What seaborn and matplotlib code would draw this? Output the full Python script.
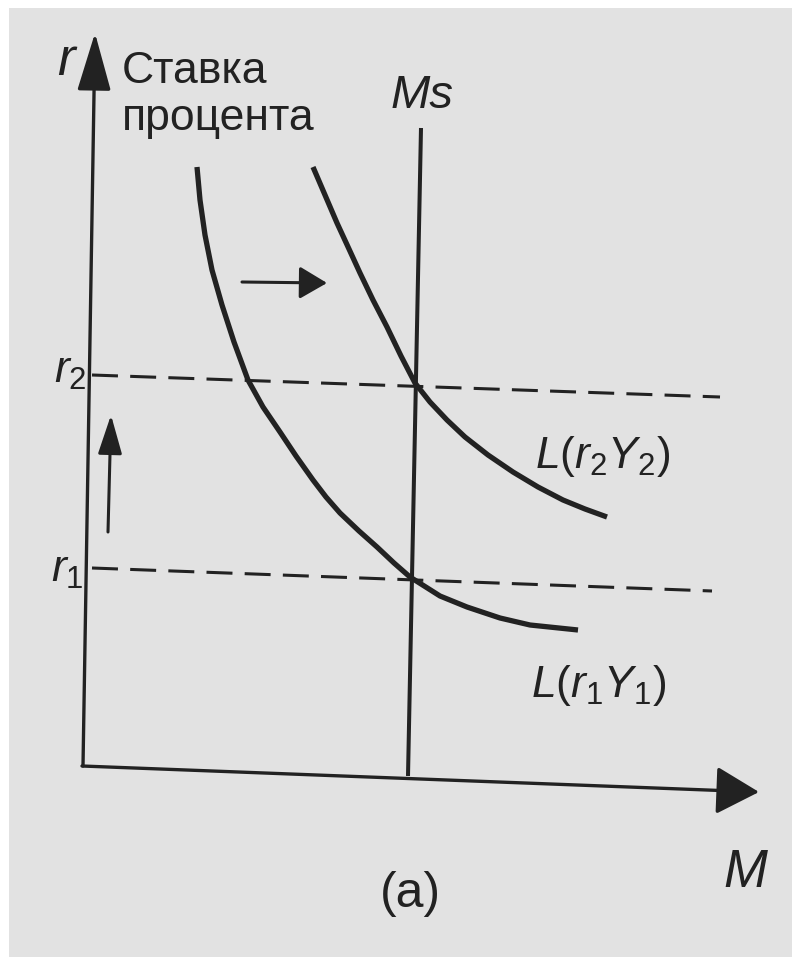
import numpy as np
import pandas as pd
import matplotlib
matplotlib.use("Agg")
import matplotlib.pyplot as plt
import seaborn as sns

# кривые спроса на деньги (M, r)
m_l1 = [114, 117, 122, 129, 139, 151, 165, 180, 197, 213, 230, 243, 257, 276, 294, 311, 327, 357, 384, 417, 447, 495]
r_l1 = [599, 566, 531, 496, 461, 424, 386, 359, 334, 310, 286, 269, 253, 235, 219, 203, 189, 170, 159, 148, 141, 136]

m_l2 = [230, 242, 254, 266, 277, 290, 304, 318, 332, 347, 364, 382, 405, 430, 455, 480, 502, 524]
r_l2 = [599, 571, 543, 517, 493, 466, 439, 410, 383, 364, 346, 329, 311, 294, 279, 266, 257, 249]

# Ms и уровни ставки
ms_m = [338, 325]
ms_r = [638, -10]
r2_m = [9, 637]
r2_r = [391, 369]
r1_m = [9, 629]
r1_r = [198, 175]

sns.set_theme(style="white")
plt.rcParams["font.family"] = ["Liberation Sans", "DejaVu Sans"]
plt.rcParams["mathtext.fontset"] = "custom"
plt.rcParams["mathtext.rm"] = "Liberation Sans"
plt.rcParams["mathtext.it"] = "Liberation Sans:italic"

ink = "#222222"
fig = plt.figure(figsize=(7.92, 9.57), dpi=100, facecolor="white")
ax = fig.add_axes([9 / 792, 0, 1 - 9 / 792, 1 - 8 / 957])
ax.set_facecolor("#e2e2e2")
ax.set_xlim(-74, 709)
ax.set_ylim(-191, 758)
ax.set_xticks([])
ax.set_yticks([])
for s in ax.spines.values():
    s.set_visible(False)

curves = pd.concat([
    pd.DataFrame({"M": m_l1, "r": r_l1, "curve": "L1"}),
    pd.DataFrame({"M": m_l2, "r": r_l2, "curve": "L2"}),
])
sns.lineplot(data=curves, x="M", y="r", units="curve", estimator=None, sort=False,
             color=ink, lw=3.8, ax=ax, solid_capstyle="butt", solid_joinstyle="round")

ax.plot(ms_m, ms_r, color=ink, lw=2.9, solid_capstyle="butt")
ax.plot(r2_m, r2_r, color=ink, lw=2.2, linestyle=(0, (8.5, 4)))
ax.plot(r1_m, r1_r, color=ink, lw=2.2, linestyle=(0, (8.5, 4)))

# оси
ax.annotate("", xy=(12, 733), xytext=(0, 0),
            arrowprops=dict(arrowstyle="-|>,head_length=1.2,head_width=0.35",
                            mutation_scale=30, lw=2.4, color=ink, shrinkA=0, shrinkB=0))
ax.annotate("", xy=(676, -26), xytext=(-1, 0),
            arrowprops=dict(arrowstyle="-|>,head_length=0.9,head_width=0.5",
                            mutation_scale=30, lw=2.4, color=ink, shrinkA=0, shrinkB=0))
# стрелки сдвига
ax.annotate("", xy=(244, 483), xytext=(159, 484),
            arrowprops=dict(arrowstyle="-|>,head_length=0.85,head_width=0.5",
                            mutation_scale=20, lw=2.2, color=ink, shrinkA=0, shrinkB=0))
ax.annotate("", xy=(28, 351), xytext=(25, 234),
            arrowprops=dict(arrowstyle="-|>,head_length=1.2,head_width=0.37",
                            mutation_scale=20, lw=2.2, color=ink, shrinkA=0, shrinkB=0))

# подписи
ax.text(-26, 691, "r", fontsize=38, style="italic", color=ink, va="baseline")
ax.text(39, 683, "Ставка", fontsize=32, color=ink, va="baseline")
ax.text(39, 636, "процента", fontsize=32, color=ink, va="baseline")
ax.text(339, 658, "Ms", fontsize=34, style="italic", color=ink, va="baseline", ha="center")
ax.text(-29, 383, r"$r_2$", fontsize=32, color=ink, va="baseline")
ax.text(-32, 184, r"$r_1$", fontsize=32, color=ink, va="baseline")
ax.text(452, 298, r"$L(r_2Y_2)$", fontsize=32, color=ink, va="baseline")
ax.text(448, 69, r"$L(r_1Y_1)$", fontsize=32, color=ink, va="baseline")
ax.text(640, -121, "M", fontsize=38, style="italic", color=ink, va="baseline")
ax.text(327, -141, "(a)", fontsize=36, color=ink, va="baseline", ha="center")

fig.savefig("out.png", dpi=100, facecolor="white")
